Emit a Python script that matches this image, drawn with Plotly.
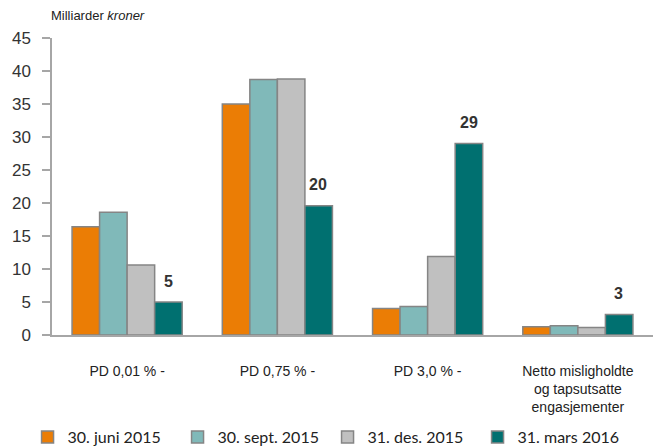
import plotly.graph_objects as go

categories = ["PD 0,01 % -", "PD 0,75 % -", "PD 3,0 % -",
              "Netto misligholdte<br>og tapsutsatte<br>engasjementer"]
series_names = ["30. juni 2015", "30. sept. 2015", "31. des. 2015", "31. mars 2016"]
juni_2015 = [16.4, 35.0, 4.0, 1.25]
sept_2015 = [18.6, 38.7, 4.3, 1.4]
des_2015 = [10.6, 38.8, 11.9, 1.15]
mars_2016 = [5.0, 19.6, 29.0, 3.1]
label_texts = ["5", "20", "29", "3"]
y_ticks = [0, 5, 10, 15, 20, 25, 30, 35, 40, 45]

colors = ["#EB7D05", "#80B9B9", "#C0C0C0", "#007070"]
all_series = [juni_2015, sept_2015, des_2015, mars_2016]

fig = go.Figure()
for name, vals, col in zip(series_names, all_series, colors):
    fig.add_trace(go.Bar(
        x=categories, y=vals, name=name,
        marker=dict(color=col, line=dict(color="#858585", width=1.5)),
        hoverinfo="skip",
    ))

# bold value labels above last series
for cat, val, txt in zip(categories, mars_2016, label_texts):
    fig.add_annotation(
        x=cat, y=val, text="<b>" + txt + "</b>", showarrow=False,
        xshift=41, yshift=21, yanchor="middle",
        font=dict(family="Liberation Sans, Arial", size=16, color="#333333"),
    )

fig.add_annotation(
    xref="paper", yref="paper", x=-0.005, y=1.0, yshift=23,
    xanchor="left", yanchor="middle", showarrow=False,
    text="Milliarder <i>kroner</i>",
    font=dict(family="Liberation Sans, Arial", size=13, color="#222222"),
)

fig.update_layout(
    width=656, height=447,
    margin=dict(l=52, r=3, t=38, b=112, autoexpand=False),
    paper_bgcolor="white", plot_bgcolor="white",
    barmode="group", bargap=0.267, bargroupgap=0,
    font=dict(family="Liberation Sans, Arial", color="#333333"),
    showlegend=True,
    legend=dict(
        orientation="h", xref="container", yref="container",
        x=0.042, y=0.022, xanchor="left", yanchor="middle",
        entrywidth=105, entrywidthmode="pixels", itemwidth=30,
        font=dict(family="Lato, Liberation Sans", size=16, color="#222222"),
        bgcolor="rgba(0,0,0,0)",
    ),
)
fig.update_xaxes(
    showline=True, linecolor="#A6A6A6", linewidth=1.5,
    ticks="", showgrid=False, zeroline=False, automargin=False,
    tickfont=dict(family="Liberation Sans, Arial", size=14, color="#222222"),
    ticklabelstandoff=22,
)
fig.update_yaxes(
    range=[0, 45], tickvals=y_ticks, automargin=False,
    showline=True, linecolor="#A6A6A6", linewidth=1.5,
    ticks="outside", ticklen=8, tickcolor="#A6A6A6", tickwidth=1.5,
    showgrid=False, zeroline=False,
    tickfont=dict(family="Liberation Sans, Arial", size=17, color="#333333"),
    ticklabelstandoff=8,
)

fig.write_html(
    "out.html",
    config={"displayModeBar": False},
    post_script="document.body.style.margin='0';document.body.style.padding='0';",
)
